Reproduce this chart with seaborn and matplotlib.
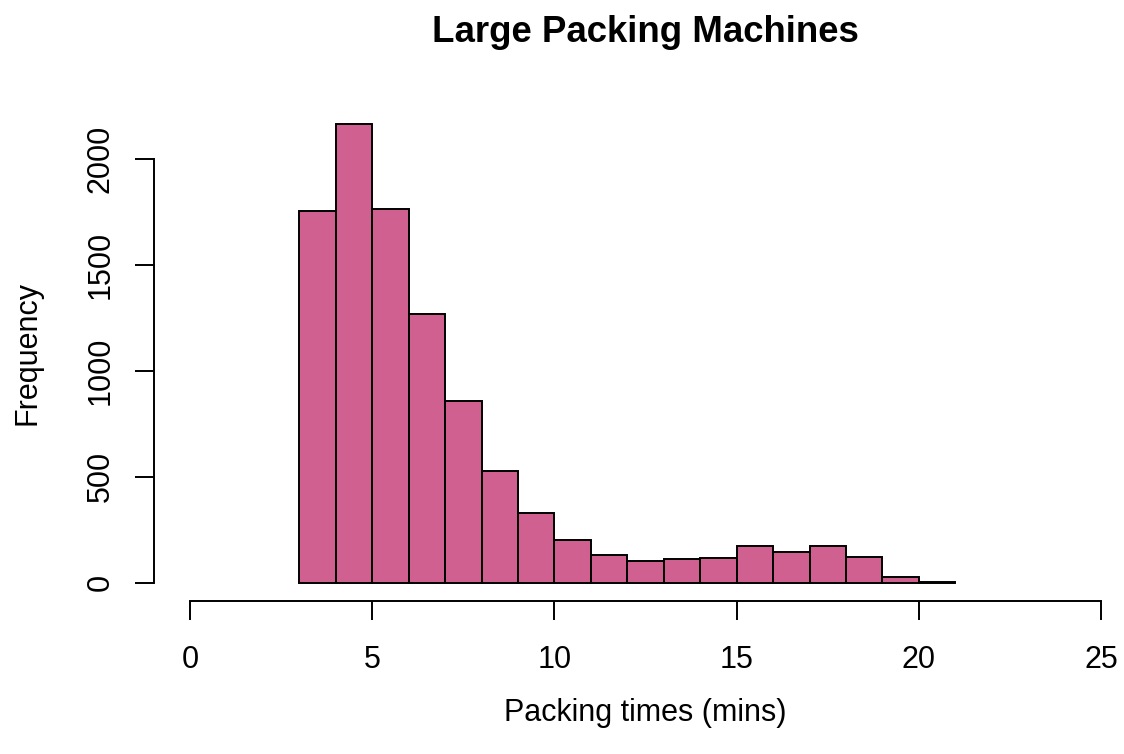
import matplotlib
matplotlib.use("Agg")
import matplotlib.pyplot as plt
import seaborn as sns

# histogram of packing times, one-minute bins
bin_edges = list(range(3, 22))
bin_counts = [1755, 2166, 1763, 1269, 860, 527, 328, 203, 129, 102,
              113, 118, 174, 145, 174, 122, 28, 3]
bin_mids = [e + 0.5 for e in bin_edges[:-1]]

x_ticks = [0, 5, 10, 15, 20, 25]
y_ticks = [0, 500, 1000, 1500, 2000]

title = 'Large Packing Machines'
x_label = 'Packing times (mins)'
y_label = 'Frequency'
bar_colour = '#CF6090'

sns.set_theme(style='white')
plt.rcParams['font.family'] = ['Liberation Sans', 'DejaVu Sans']
plt.rcParams['text.color'] = 'black'
plt.rcParams['axes.labelcolor'] = 'black'

fig = plt.figure(figsize=(11.24, 7.54), dpi=100)
# plot region placed like R's base graphics (extends a bit past the right edge)
ax = fig.add_axes([0.1367, 0.2023, 0.8753, 0.6598])

sns.histplot(x=bin_mids, weights=bin_counts, bins=bin_edges, ax=ax,
             color=bar_colour, edgecolor='black', linewidth=1.4, alpha=1)

ax.set_xlim(-1, 26)
ax.set_ylim(-89, 2261)

# R style detached axes
for side in ['top', 'right']:
    ax.spines[side].set_visible(False)
ax.spines['left'].set_bounds(0, 2000)
ax.spines['bottom'].set_bounds(0, 25)
for side in ['left', 'bottom']:
    ax.spines[side].set_color('black')
    ax.spines[side].set_linewidth(1.4)

ax.set_xticks(x_ticks)
ax.set_yticks(y_ticks)
ax.tick_params(axis='both', direction='out', length=14, width=1.4,
               color='black', labelsize=22, labelcolor='black',
               bottom=True, left=True)
ax.tick_params(axis='x', pad=17)
ax.tick_params(axis='y', pad=18.5)
for lbl in ax.get_yticklabels():
    lbl.set(rotation=90, rotation_mode='anchor', ha='center', va='baseline')

ax.set_title(title, fontsize=26.4, fontweight='bold', pad=44.6, color='black')
ax.set_xlabel(x_label, fontsize=22, va='baseline', color='black')
ax.xaxis.set_label_coords(0.5, -0.24)
ax.set_ylabel(y_label, fontsize=22, va='baseline', color='black')
ax.yaxis.set_label_coords(-0.1206, 0.5)

fig.savefig('out.png', dpi=100)
